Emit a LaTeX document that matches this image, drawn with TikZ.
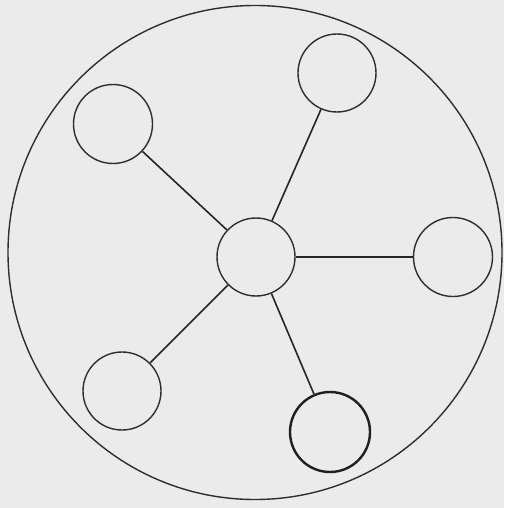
\documentclass[tikz,border=0pt]{standalone}
\begin{document}
\begin{tikzpicture}[x=1pt,y=-1pt,
  ln/.style={draw=black!85,line width=1.6pt},
  sat/.style={circle,draw=black!82,line width=1.4pt,minimum size=78pt,inner sep=0pt}]
\fill[black!8] (0,0) rectangle (504,508);
\useasboundingbox (0,0) rectangle (504,508);
\node[circle,draw=black!82,line width=1.4pt,minimum size=494pt,inner sep=0pt] (outer) at (255,252.5) {};
\node[sat] (c) at (256,257) {};
\node[sat,minimum size=79pt] (tl) at (113,124) {};
\node[sat] (tr) at (337,73) {};
\node[sat,minimum size=79pt] (r) at (453,257) {};
\node[sat] (bl) at (122,391) {};
\node[sat,minimum size=80pt,line width=2.4pt,draw=black!88] (br) at (330,432) {};
\draw[ln] (c) -- (tl);
\draw[ln] (c) -- (tr);
\draw[ln] (c) -- (r);
\draw[ln] (c) -- (bl);
\draw[ln] (c) -- (br);
\end{tikzpicture}
\end{document}
